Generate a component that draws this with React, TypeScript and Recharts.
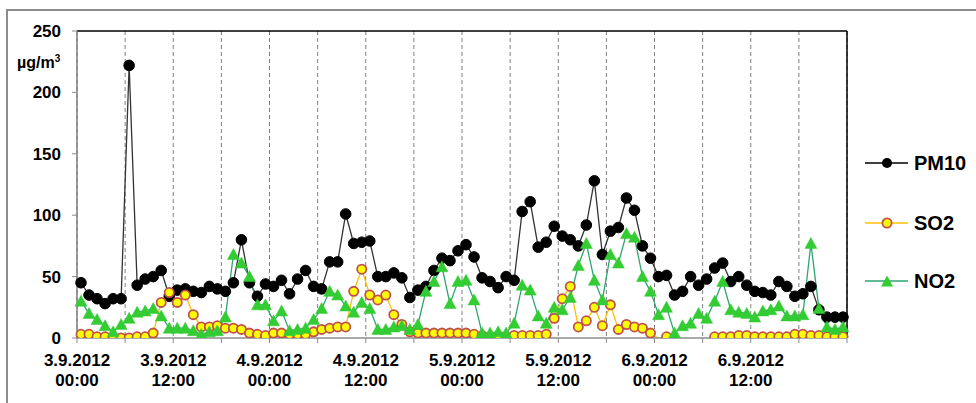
import { LineChart, Line, XAxis, YAxis, CartesianGrid, ReferenceLine } from "recharts";

// hourly values, 3.9.2012 00:00 – 6.9.2012 23:00 (µg/m3)
const pm10 = [
  45, 35, 32, 28, 32, 32, 222, 43, 48, 50, 55, 34, 39, 40, 38, 37, 42, 40, 38, 45, 80, 45, 34, 44,
  42, 47, 36, 48, 55, 42, 40, 62, 62, 101, 77, 78, 79, 50, 50, 53, 49, 33, 39, 42, 55, 65, 63, 71,
  76, 66, 49, 46, 41, 50, 47, 103, 111, 74, 78, 91, 83, 80, 75, 92, 128, 68, 87, 90, 114, 104, 75, 65,
  50, 51, 35, 38, 50, 43, 48, 57, 61, 46, 50, 43, 38, 37, 35, 46, 42, 34, 36, 42, 23, 17, 17, 17,
];
// negative = below the axis minimum (no marker, as in the original sheet)
const so2: (number | null)[] = [
  3, 3, 1, 1, 0, 0, 0, 1, 1, 4, 29, 37, 29, 35, 19, 9, 9, 10, 8, 8, 7, 4, 3, 2,
  4, 4, 3, 3, 3, 5, 7, 8, 9, 9, 38, 56, 35, 31, 35, 19, 11, 5, 4, 4, 4, 4, 4, 4,
  4, 3, 2, 1, 1, 1, 2, 2, 2, 2, 3, 16, 32, 42, 9, 14, 25, 10, 27, 7, 11, 9, 8, 4,
  -0.5, 1, null, null, -0.5, -0.5, null, 1, 1, 1, 2, 2, 1, 1, 1, 1, 1, 3, 3, 2, 2, 1, 1, 1,
];
const no2 = [
  30, 20, 15, 10, 5, 11, 16, 21, 22, 24, 18, 8, 8, 8, 6, 3, 5, 6, 17, 68, 61, 50, 27, 27,
  14, 22, 6, 7, 8, 15, 24, 38, 35, 26, 21, 29, 24, 7, 7, 9, 10, 7, 11, 38, 46, 58, 28, 46,
  47, 31, 4, 4, 5, 4, 12, 43, 39, 18, 12, 25, 23, 33, 59, 77, 47, 31, 68, 61, 85, 82, 50, 38,
  19, 25, 4, 10, 12, 20, 16, 30, 46, 23, 21, 20, 17, 22, 23, 26, 18, 18, 19, 77, 24, 9, 7, 9,
];

const hourTicks = [0, 6, 12, 18, 24, 30, 36, 42, 48, 54, 60, 66, 72, 78, 84, 90, 96];
const labelDates = ["3.9.2012", "3.9.2012", "4.9.2012", "4.9.2012", "5.9.2012", "5.9.2012", "6.9.2012", "6.9.2012"];
const labelTimes = ["00:00", "12:00", "00:00", "12:00", "00:00", "12:00", "00:00", "12:00"];
const yTicks = [0, 50, 100, 150, 200, 250];

const data = pm10.map((v, i) => ({ hour: i + 0.5, PM10: v, SO2: so2[i], NO2: no2[i] }));

const FONT = "'Liberation Sans', Arial, sans-serif";

const PM10_COLOR = "#333333";
const SO2_LINE = "#FFC000";
const NO2_LINE = "#2EA56E";
const NO2_FILL = "#33CC33";

function HourTick({ x, y, payload }: any) {
  const k = payload.value / 12;
  if (!Number.isInteger(k) || k >= labelDates.length) return <g />;
  return (
    <text x={x} y={y} textAnchor="middle" fontSize={17} fontWeight="bold" fill="#000" fontFamily={FONT}>
      <tspan x={x} dy={21}>{labelDates[k]}</tspan>
      <tspan x={x} dy={20}>{labelTimes[k]}</tspan>
    </text>
  );
}

const pmDot = (p: any) =>
  p.cy == null || p.value == null ? (
    <g key={`pm-${p.index}`} />
  ) : (
    <circle key={`pm-${p.index}`} cx={p.cx} cy={p.cy} r={5.3} fill="#000" stroke="#000" strokeWidth={1} />
  );

const so2Dot = (p: any) =>
  p.cy == null || p.value == null || p.value < 0 ? (
    <g key={`so-${p.index}`} />
  ) : (
    <circle key={`so-${p.index}`} cx={p.cx} cy={p.cy} r={4.6} fill="#FFFF00" stroke="#C0504D" strokeWidth={1.8} />
  );

function triangle(cx: number, cy: number) {
  return `${cx},${cy - 6} ${cx + 6},${cy + 5} ${cx - 6},${cy + 5}`;
}

const no2Dot = (p: any) =>
  p.cy == null || p.value == null ? (
    <g key={`no-${p.index}`} />
  ) : (
    <polygon key={`no-${p.index}`} points={triangle(p.cx, p.cy)} fill={NO2_FILL} stroke={NO2_FILL} strokeWidth={0.5} />
  );

const legendRows = [
  { name: "PM10", top: 163 },
  { name: "SO2", top: 223 },
  { name: "NO2", top: 281 },
];

function LegendIcon({ name }: { name: string }) {
  if (name === "PM10")
    return (
      <svg width={46} height={14}>
        <line x1={1} y1={7} x2={44} y2={7} stroke="#000" strokeWidth={1.5} />
        <circle cx={23} cy={7} r={5} fill="#000" />
      </svg>
    );
  if (name === "SO2")
    return (
      <svg width={46} height={14}>
        <line x1={1} y1={7} x2={44} y2={7} stroke={SO2_LINE} strokeWidth={1.5} />
        <circle cx={23} cy={7} r={4.6} fill="#FFFF00" stroke="#C0504D" strokeWidth={1.8} />
      </svg>
    );
  return (
    <svg width={46} height={14}>
      <line x1={1} y1={7} x2={44} y2={7} stroke={NO2_LINE} strokeWidth={1.5} />
      <polygon points={triangle(23, 7.5)} fill={NO2_FILL} />
    </svg>
  );
}

export default function App() {
  return (
    <div
      style={{
        position: "absolute",
        left: 0,
        top: 0,
        width: 976,
        height: 403,
        overflow: "hidden",
        background: "#fff",
        fontFamily: FONT,
      }}
    >
      <div
        style={{
          position: "absolute",
          left: 6,
          top: 9,
          width: 1100,
          height: 1000,
          border: "2px solid #8c8c8c",
        }}
      />
      <div style={{ position: "absolute", left: 0, top: 0 }}>
        <LineChart width={976} height={403} data={data} margin={{ top: 31, right: 129, bottom: 0, left: 0 }}>
          <CartesianGrid vertical horizontal={false} stroke="#7f7f7f" strokeDasharray="4 3" />
          <XAxis
            dataKey="hour"
            type="number"
            domain={[0, 96]}
            ticks={hourTicks}
            interval={0}
            height={65}
            tick={<HourTick />}
            tickSize={5}
            tickLine={{ stroke: "#8c8c8c" }}
            axisLine={{ stroke: "#8c8c8c", strokeWidth: 1.5 }}
          />
          <YAxis
            domain={[0, 250]}
            ticks={yTicks}
            allowDataOverflow
            width={77}
            tickSize={5}
            tickMargin={11}
            tick={{ fill: "#000", fontSize: 17, fontWeight: "bold", fontFamily: FONT }}
            tickLine={{ stroke: "#8c8c8c" }}
            axisLine={{ stroke: "#7f7f7f", strokeWidth: 1.5 }}
          />
          <ReferenceLine y={250} stroke="#000" strokeWidth={1.5} />
          <ReferenceLine x={96} stroke="#000" strokeWidth={1.5} />
          <Line
            dataKey="PM10"
            stroke={PM10_COLOR}
            strokeWidth={1.3}
            dot={pmDot}
            activeDot={false}
            isAnimationActive={false}
          />
          <Line
            dataKey="SO2"
            stroke={SO2_LINE}
            strokeWidth={1.3}
            dot={so2Dot}
            activeDot={false}
            isAnimationActive={false}
          />
          <Line
            dataKey="NO2"
            stroke={NO2_LINE}
            strokeWidth={1.3}
            dot={no2Dot}
            activeDot={false}
            isAnimationActive={false}
          />
        </LineChart>
      </div>
      <div
        style={{
          position: "absolute",
          left: 17,
          top: 53,
          fontSize: 16,
          fontWeight: "bold",
          color: "#000",
          lineHeight: "20px",
        }}
      >
        µg/m<span style={{ fontSize: 10, verticalAlign: "top", lineHeight: "12px" }}>3</span>
      </div>
      {legendRows.map((r) => (
        <div
          key={r.name}
          style={{
            position: "absolute",
            left: 864,
            top: r.top - 12,
            height: 24,
            display: "flex",
            alignItems: "center",
            fontSize: 20,
            fontWeight: "bold",
            color: "#000",
          }}
        >
          <LegendIcon name={r.name} />
          <span style={{ marginLeft: 4 }}>{r.name}</span>
        </div>
      ))}
    </div>
  );
}
